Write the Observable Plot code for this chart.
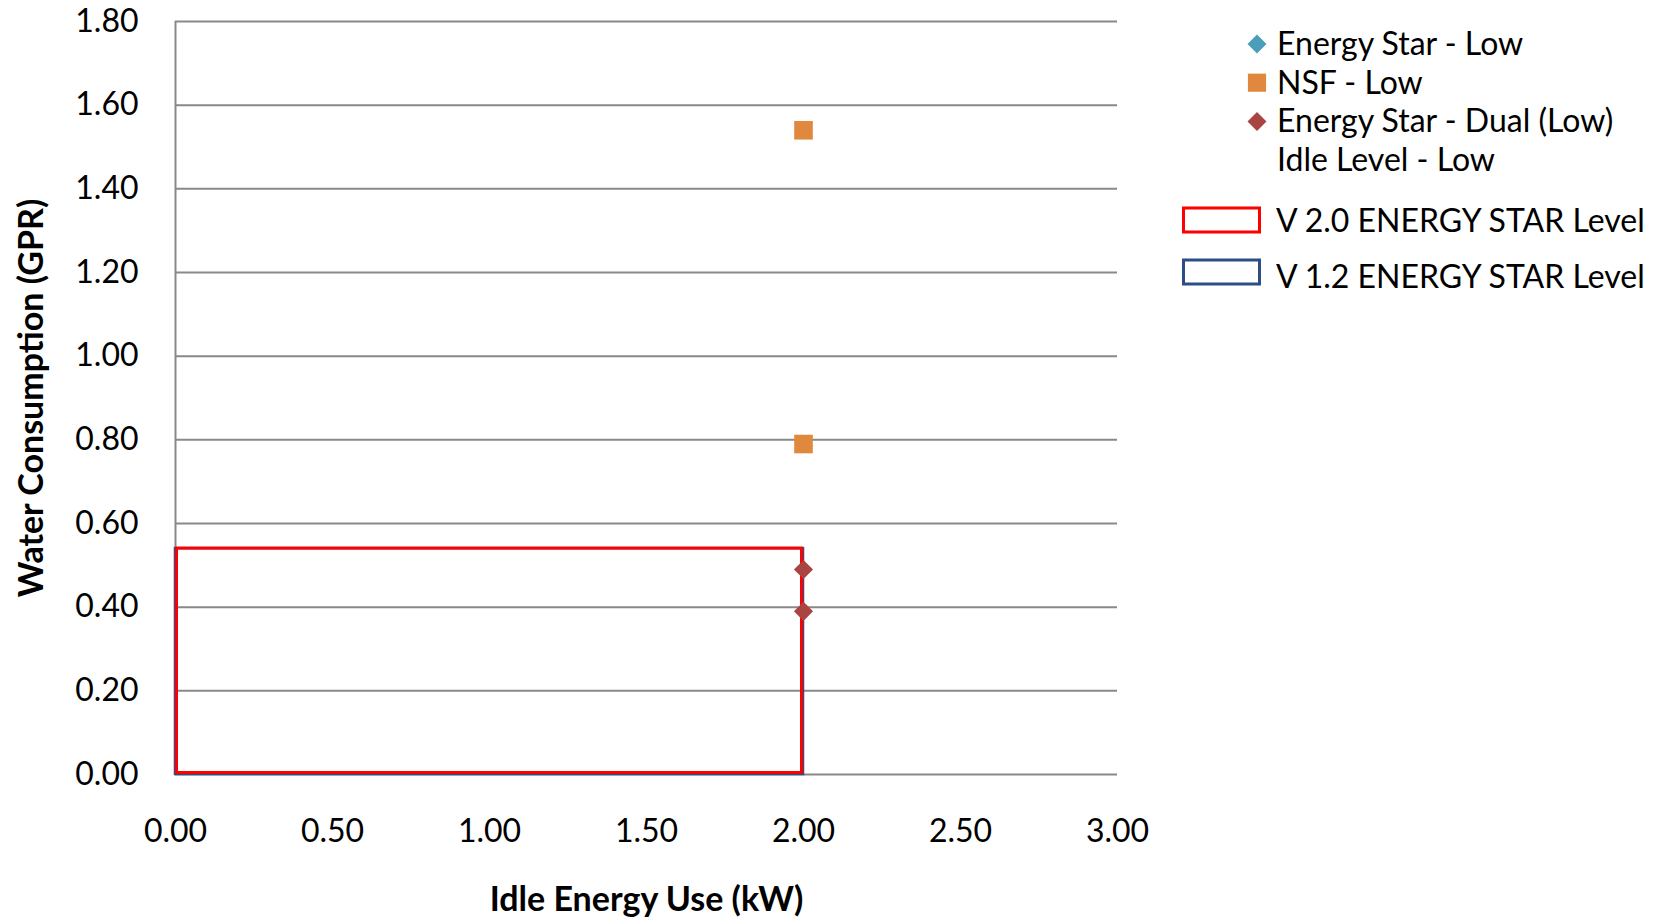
<!DOCTYPE html>
<html>
<head>
<meta charset="utf-8">
<script src="https://cdn.jsdelivr.net/npm/d3@7"></script>
<script src="https://cdn.jsdelivr.net/npm/@observablehq/plot@0.6"></script>
<style>
  html, body { margin: 0; padding: 0; background: #fff; }
  #chart { position: relative; width: 1667px; height: 922px; }
</style>
</head>
<body>
<div id="chart"></div>
<script>
// ---- Data ----
const xTicks = [0, 0.5, 1, 1.5, 2, 2.5, 3];
const yTicks = [0, 0.2, 0.4, 0.6, 0.8, 1.0, 1.2, 1.4, 1.6, 1.8];
const xTitle = "Idle Energy Use (kW)";
const yTitle = "Water Consumption (GPR)";

// Scatter series (Idle kW, GPR)
const energyStarLowX = [];
const energyStarLowY = [];
const nsfLowX = [2.00, 2.00];
const nsfLowY = [1.54, 0.79];
const dualLowX = [2.00, 2.00];
const dualLowY = [0.49, 0.39];

// Level boxes: 0..x2 by 0..y2
const boxNames = ["V 2.0 ENERGY STAR Level", "V 1.2 ENERGY STAR Level"];
const boxX2 = [2.00, 2.00];
const boxY2 = [0.54, 0.54];

const seriesNames = ["Energy Star - Low", "NSF - Low", "Energy Star - Dual (Low)", "Idle Level - Low"];

// ---- Styles ----
const teal = "#4A9EBA", orange = "#E0883E", darkRed = "#A94442";
const redBox = "#FF0000", blueBox = "#2B4E86";
const gridColor = "#898989";
const font = "Lato, 'Open Sans', sans-serif";

const pts = (xs, ys) => xs.map((x, i) => ({x, y: ys[i]}));
const boxes = boxNames.map((name, i) => ({name, x1: 0, x2: boxX2[i], y1: 0, y2: boxY2[i]}));

const chart = Plot.plot({
  width: 1667,
  height: 922,
  marginLeft: 175,
  marginRight: 550,
  marginTop: 21,
  marginBottom: 148,
  style: {fontFamily: font, fontSize: "32px", color: "#000", background: "#fff", overflow: "visible"},
  x: {domain: [0, 3], ticks: xTicks, tickFormat: d => d.toFixed(2), tickSize: 0, tickPadding: 45, label: null},
  y: {domain: [0, 1.8], ticks: yTicks, tickFormat: d => d.toFixed(2), tickSize: 0, tickPadding: 37, label: null},
  marks: [
    Plot.ruleY(yTicks, {stroke: gridColor, strokeWidth: 2}),
    Plot.ruleX([0], {stroke: gridColor, strokeWidth: 2}),
    Plot.rect([boxes[1]], {x1: "x1", x2: "x2", y1: "y1", y2: "y2", fill: "none", stroke: blueBox, strokeWidth: 2.5}),
    Plot.rect([boxes[0]], {x1: "x1", x2: "x2", y1: "y1", y2: "y2", fill: "none", stroke: redBox, strokeWidth: 3,
      insetLeft: 1.5, insetRight: 1.5, insetBottom: 1.5, insetTop: 0}),
    Plot.dot(pts(energyStarLowX, energyStarLowY), {x: "x", y: "y", symbol: "diamond2", r: 8.6, fill: teal, stroke: "none"}),
    Plot.dot(pts(nsfLowX, nsfLowY), {x: "x", y: "y", symbol: "square", r: 10.5, fill: orange, stroke: "none"}),
    Plot.dot(pts(dualLowX, dualLowY), {x: "x", y: "y", symbol: "diamond2", r: 8.6, fill: darkRed, stroke: "none"}),
    Plot.text([xTitle], {frameAnchor: "bottom", dy: 126, lineAnchor: "middle", textAnchor: "middle", fontWeight: "bold", fontSize: 34}),
    Plot.text([yTitle], {frameAnchor: "left", dx: -143, rotate: -90, lineAnchor: "middle", textAnchor: "middle", fontWeight: "bold", fontSize: 34})
  ]
});

document.getElementById("chart").appendChild(chart);

// ---- Legend (drawn into the same SVG) ----
const svg = d3.select(chart);
const lg = svg.append("g").attr("font-family", font).attr("font-size", 32).attr("fill", "#000").attr("text-anchor", "start");
const symItems = [
  {name: seriesNames[0], sym: d3.symbolDiamond2, size: 230, color: teal},
  {name: seriesNames[1], sym: d3.symbolSquare, size: 330, color: orange},
  {name: seriesNames[2], sym: d3.symbolDiamond2, size: 230, color: darkRed},
  {name: seriesNames[3], sym: null}
];
symItems.forEach((it, i) => {
  const base = 55 + i * 38.7;
  if (it.sym) {
    lg.append("path")
      .attr("d", d3.symbol(it.sym, it.size)())
      .attr("transform", `translate(1257,${base - 11})`)
      .attr("fill", it.color);
  }
  lg.append("text").attr("x", 1277).attr("y", base).text(it.name);
});
const boxItems = [
  {name: boxNames[0], color: redBox, rectY: 208, base: 232},
  {name: boxNames[1], color: blueBox, rectY: 260, base: 288}
];
boxItems.forEach(it => {
  lg.append("rect").attr("x", 1183.5).attr("y", it.rectY).attr("width", 76).attr("height", 24)
    .attr("fill", "none").attr("stroke", it.color).attr("stroke-width", 3);
  lg.append("text").attr("x", 1276).attr("y", it.base).text(it.name);
});
</script>
</body>
</html>
